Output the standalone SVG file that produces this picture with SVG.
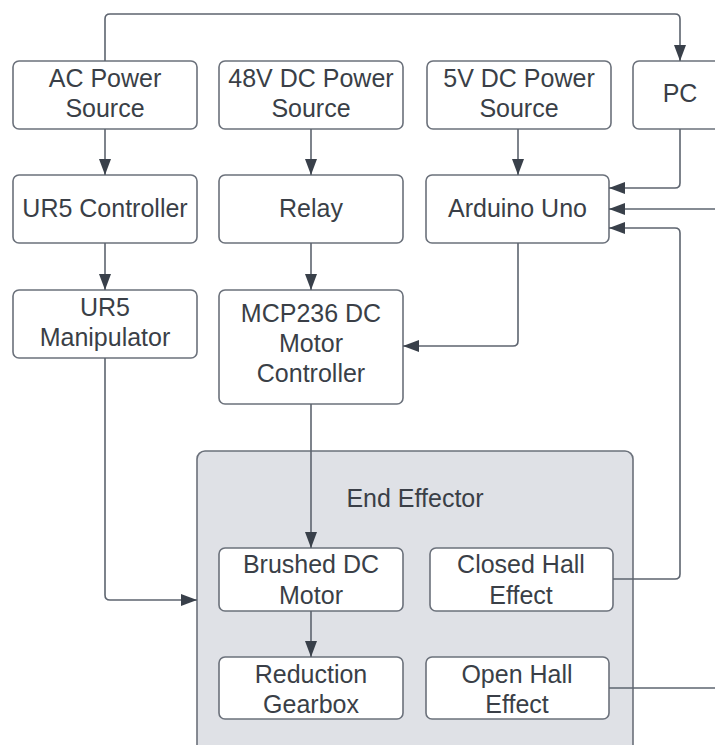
<svg xmlns="http://www.w3.org/2000/svg" width="715" height="745" viewBox="0 0 715 745">
<style>
.box{fill:#ffffff;stroke:#6b717b;stroke-width:1.6}
.grp{fill:#dfe1e6;stroke:#6b717b;stroke-width:1.6}
.t{font-family:"Liberation Sans",Arial,sans-serif;font-size:25px;fill:#3a3f47;text-anchor:middle}
.c{fill:none;stroke:#5d646f;stroke-width:1.6}
</style>
<defs>
<marker id="ah" markerUnits="userSpaceOnUse" markerWidth="16" markerHeight="12" refX="16" refY="6" orient="auto" viewBox="0 0 16 12">
<path d="M0,0 L16,6 L0,12 z" fill="#39404a"/>
</marker>
</defs>
<rect width="715" height="745" fill="#ffffff"/>
<g id="end-effector">
<rect class="grp" x="197" y="451" width="436" height="310" rx="8"/>
<text class="t" x="415" y="507">End Effector</text>
</g>
<g id="ac-power"><rect class="box" x="13" y="61" width="184" height="68" rx="6"/><text class="t" x="105" y="87">AC Power</text><text class="t" x="105" y="117">Source</text></g>
<g id="dc48-power"><rect class="box" x="219" y="61" width="184" height="68" rx="6"/><text class="t" x="311" y="87">48V DC Power</text><text class="t" x="311" y="117">Source</text></g>
<g id="dc5-power"><rect class="box" x="427" y="61" width="184" height="68" rx="6"/><text class="t" x="519" y="87">5V DC Power</text><text class="t" x="519" y="117">Source</text></g>
<g id="pc"><rect class="box" x="633" y="61" width="94" height="68" rx="6"/><text class="t" x="680" y="102">PC</text></g>
<g id="ur5-controller"><rect class="box" x="13" y="175" width="184" height="68" rx="6"/><text class="t" x="105" y="217">UR5 Controller</text></g>
<g id="relay"><rect class="box" x="219" y="175" width="184" height="68" rx="6"/><text class="t" x="311" y="217">Relay</text></g>
<g id="arduino"><rect class="box" x="426" y="175" width="183" height="68" rx="6"/><text class="t" x="517.5" y="217">Arduino Uno</text></g>
<g id="ur5-manipulator"><rect class="box" x="13" y="290" width="184" height="68" rx="6"/><text class="t" x="105" y="316">UR5</text><text class="t" x="105" y="346">Manipulator</text></g>
<g id="mcp236"><rect class="box" x="219" y="290" width="184" height="114" rx="6"/><text class="t" x="311" y="322">MCP236 DC</text><text class="t" x="311" y="352">Motor</text><text class="t" x="311" y="382">Controller</text></g>
<g id="brushed-motor"><rect class="box" x="219" y="548" width="184" height="63" rx="6"/><text class="t" x="311" y="573">Brushed DC</text><text class="t" x="311" y="604">Motor</text></g>
<g id="closed-hall"><rect class="box" x="430" y="548" width="183" height="63" rx="6"/><text class="t" x="521" y="573">Closed Hall</text><text class="t" x="521" y="604">Effect</text></g>
<g id="gearbox"><rect class="box" x="219" y="657" width="184" height="62" rx="6"/><text class="t" x="311" y="683">Reduction</text><text class="t" x="311" y="713">Gearbox</text></g>
<g id="open-hall"><rect class="box" x="426" y="657" width="183" height="62" rx="6"/><text class="t" x="517" y="683">Open Hall</text><text class="t" x="517" y="713">Effect</text></g>
<g id="connectors">
<path class="c" d="M105 129 V175" marker-end="url(#ah)"/>
<path class="c" d="M105 243 V290" marker-end="url(#ah)"/>
<path class="c" d="M311 129 V175" marker-end="url(#ah)"/>
<path class="c" d="M311 243 V290" marker-end="url(#ah)"/>
<path class="c" d="M518 129 V175" marker-end="url(#ah)"/>
<path class="c" d="M105 61 V19 Q105 14 110 14 H675 Q680 14 680 19 V61" marker-end="url(#ah)"/>
<path class="c" d="M680 129 V183 Q680 188 675 188 H609" marker-end="url(#ah)"/>
<path class="c" d="M715 209 H609" marker-end="url(#ah)"/>
<path class="c" d="M613 579 H675 Q680 579 680 574 V233 Q680 228 675 228 H609" marker-end="url(#ah)"/>
<path class="c" d="M518 243 V341 Q518 346 513 346 H403" marker-end="url(#ah)"/>
<path class="c" d="M105 358 V595 Q105 600 110 600 H197" marker-end="url(#ah)"/>
<path class="c" d="M311 404 V548" marker-end="url(#ah)"/>
<path class="c" d="M311 611 V657" marker-end="url(#ah)"/>
<path class="c" d="M609 688 H715"/>
</g>
</svg>
